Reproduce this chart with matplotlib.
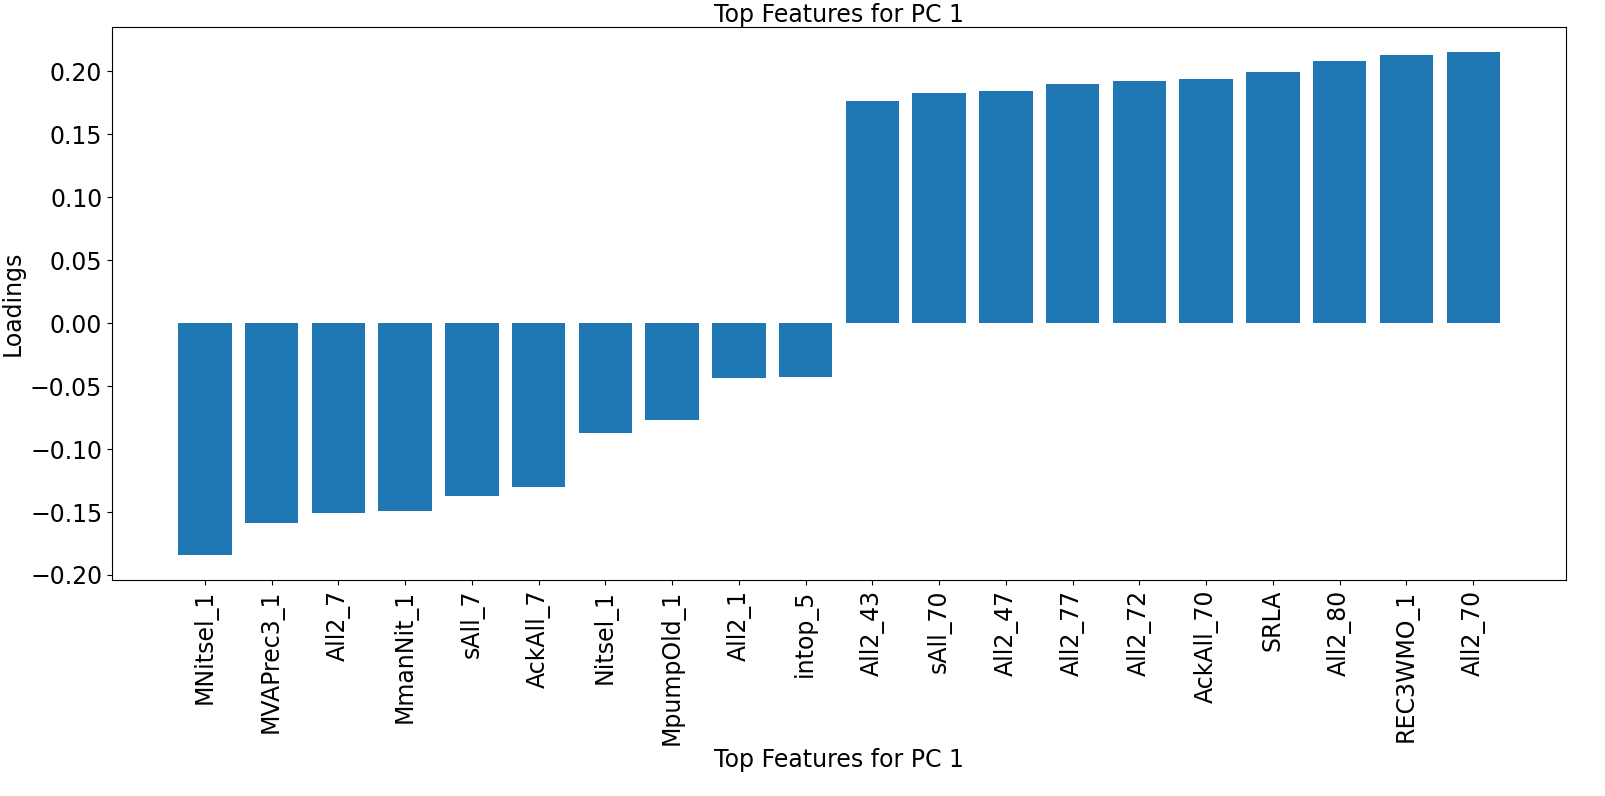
import matplotlib.pyplot as plt

features = ['MNitsel_1', 'MVAPrec3_1', 'All2_7', 'MmanNit_1', 'sAll_7', 'AckAll_7',
            'Nitsel_1', 'MpumpOld_1', 'All2_1', 'intop_5', 'All2_43', 'sAll_70',
            'All2_47', 'All2_77', 'All2_72', 'AckAll_70', 'SRLA', 'All2_80',
            'REC3WMO_1', 'All2_70']
loadings = [-0.184, -0.1586, -0.1506, -0.149, -0.137, -0.130,
            -0.0876, -0.0773, -0.0438, -0.043, 0.176, 0.183,
            0.184, 0.190, 0.192, 0.1936, 0.199, 0.208,
            0.2127, 0.215]

fs = 17
fig = plt.figure(figsize=(16.05, 7.96), dpi=100)
ax = fig.add_subplot(111)
ax.bar(range(len(features)), loadings, color='#1f77b4')
ax.set_xticks(range(len(features)))
ax.set_xticklabels(features, rotation=90, fontsize=fs)
ax.tick_params(axis='y', labelsize=fs)
ax.set_xlabel('Top Features for PC 1', fontsize=fs, labelpad=2)
ax.set_ylabel('Loadings', fontsize=fs)
ax.set_title('Top Features for PC 1', fontsize=fs, pad=2)
fig.subplots_adjust(left=0.0698, right=0.9757, top=0.966, bottom=0.2714)
fig.savefig('out.png')
